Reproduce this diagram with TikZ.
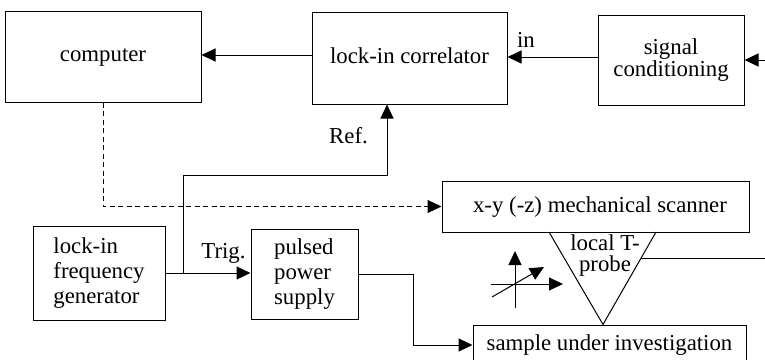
\documentclass[tikz,border=0pt]{standalone}
\usepackage{fontspec}
\setmainfont{Liberation Serif}
\usetikzlibrary{arrows.meta}
\begin{document}
\begin{tikzpicture}[x=1pt,y=-1pt,
  lw/.style={line width=1pt},
  blk/.style={draw, line width=1pt, inner sep=0pt, align=center, font=\fontsize{22.8}{25}\selectfont},
  one/.style={text height=15.5pt, text depth=5pt},
  arr/.style={line width=1pt, -{Triangle[length=14pt,width=13pt]}},
  lbl/.style={inner sep=0pt, font=\fontsize{22.8}{25}\selectfont},
  dsh/.style={dash pattern=on 5pt off 3.5pt}
]
\useasboundingbox (0,0) rectangle (765,359);
% blocks
\node[blk, one, minimum width=196pt, minimum height=91pt] (comp) at (103,56.5) {computer};
\node[blk, one, minimum width=195pt, minimum height=92pt] (corr) at (409.5,58) {lock-in correlator};
\node[blk, minimum width=146pt, minimum height=90pt, font=\fontsize{22.8}{22}\selectfont] (sig) at (671,60) {signal\\conditioning};
\node[blk, minimum width=307pt, minimum height=51pt] (scan) at (595.5,206.5) {};
\node[lbl, one] (scantxt) at (600,207) {x-y (-z) mechanical scanner};
\node[blk, align=left, minimum width=132pt, minimum height=94pt] (freq) at (99,273) {lock-in\\frequency\\generator};
\node[blk, align=left, minimum width=107pt, minimum height=90pt] (pps) at (304.5,274) {pulsed\\power\\supply};
\node[blk, one, minimum width=273pt, minimum height=40pt] (sample) at (609.5,345) {sample under investigation};
% labels
\node[lbl] (inlbl) at (526,40) {in};
\node[lbl] (reflbl) at (348.5,135.5) {Ref.};
\node[lbl] (triglbl) at (223.5,253) {Trig.};
% connectors
\coordinate (c1) at ([yshift=3pt]corr.west);
\draw[arr] (c1) -- (c1 -| comp.east);
\coordinate (s1) at ([yshift=3pt]sig.west);
\draw[arr] (s1) -- (s1 -| corr.east);
\coordinate (inR) at (765,60);
\draw[arr] (inR) -- (sig.east);
\draw[arr] (freq.east) -- (freq.east -| pps.west);
\coordinate (j) at (183,273);
\coordinate (r) at (387,175);
\draw[arr] (j) |- (r) -- (r |- corr.south);
\draw[arr, dsh] (comp.south) |- (scan.west);
\coordinate (k) at (413,345);
\draw[arr] (pps.east) -| (k) -- (sample.west);
% probe
\coordinate (tl) at (549,232);
\coordinate (tr) at (656,232);
\coordinate (tb) at (603,324.5);
\draw[lw] (tl) -- (tb) -- (tr);
\node[lbl, align=center, font=\fontsize{22.8}{21}\selectfont] (probe) at (605,256) {local T-\\probe};
\coordinate (pr) at (640.7,258);
\coordinate (edge1) at (765,258);
\draw[lw] (pr) -- (edge1);
% axes symbol
\coordinate (a0) at (515,308); \coordinate (a1) at (515,251);
\coordinate (b0) at (491,284); \coordinate (b1) at (563,284);
\coordinate (c0) at (492,297); \coordinate (c1e) at (544,267);
\draw[arr] (a0) -- (a1);
\draw[arr] (b0) -- (b1);
\draw[arr] (c0) -- (c1e);
\end{tikzpicture}
\end{document}
